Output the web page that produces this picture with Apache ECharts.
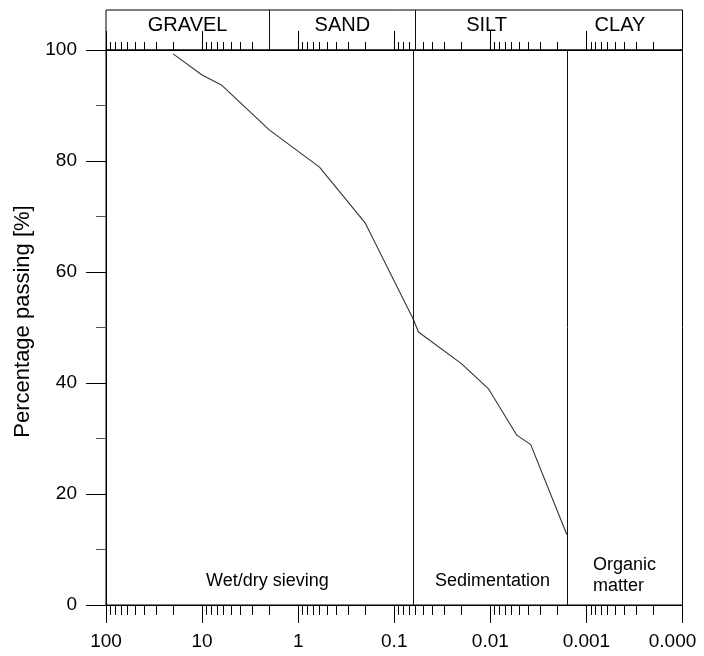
<!DOCTYPE html>
<html>
<head>
<meta charset="utf-8">
<script src="https://cdn.jsdelivr.net/npm/echarts@6/dist/echarts.min.js"></script>
<style>
  html, body { margin: 0; padding: 0; background: #fff; }
  #chart { width: 704px; height: 656px; }
</style>
</head>
<body>
<div id="chart"></div>
<script>
// Grain size distribution curve (particle diameter in mm, log scale, decreasing to the right)
const sizeMm = [20, 10, 6.3, 2, 0.6, 0.2, 0.063, 0.056, 0.02, 0.0105, 0.0053, 0.0038, 0.0016];
const passingPct = [99.3, 95.5, 93.7, 85.6, 78.9, 68.8, 51.4, 49.2, 43.5, 39.0, 30.6, 28.9, 12.7];

// Soil fractions shown in the header band
const fractionNames = ['GRAVEL', 'SAND', 'SILT', 'CLAY'];
const fractionBounds = [100, 2, 0.06, 0.002, 0.0001];

// Boundaries between the test methods
const methodBounds = [0.063, 0.0016];
const methodNames = ['Wet/dry sieving', 'Sedimentation', 'Organic\nmatter'];

// Axis ticks
const tickValues = [100, 10, 1, 0.1, 0.01, 0.001, 0.0001];
const tickLabels = ['100', '10', '1', '0.1', '0.01', '0.001', '0.000'];
const yTicks = [0, 20, 40, 60, 80, 100];

const FONT = 'Liberation Sans, Arial, sans-serif';
const INK = '#000';

// intermediate logarithmic ticks 2..9 × 10^n
const minorValues = [];
for (let n = -4; n <= 1; n++) {
  for (let k = 2; k <= 9; k++) minorValues.push(+(k * Math.pow(10, n)).toPrecision(3));
}

function labelFor(v) {
  const i = tickValues.findIndex(t => Math.abs(Math.log10(t) - Math.log10(v)) < 1e-6);
  if (i < 0) return '';
  return i === tickValues.length - 1 ? '{r|' + tickLabels[i] + '}' : tickLabels[i];
}

const logAxisBase = {
  type: 'log',
  logBase: 10,
  min: tickValues[tickValues.length - 1],
  max: tickValues[0],
  inverse: true,
  splitLine: { show: false },
  axisPointer: { show: false }
};

const chart = echarts.init(document.getElementById('chart'), null, { renderer: 'canvas' });

const fractionAreas = fractionNames.map((name, i) => [
  { xAxis: fractionBounds[i], name: name },
  { xAxis: fractionBounds[i + 1] }
]);

// full-height separators between the test methods
const yMin = yTicks[0], yMax = yTicks[yTicks.length - 1];
const methodLines = methodBounds.map(v => [{ coord: [v, yMin] }, { coord: [v, yMax] }]);

chart.setOption({
  animation: false,
  backgroundColor: '#fff',
  grid: [
    { left: 106, right: 21.5, top: 50, bottom: 51, show: true, borderColor: INK, borderWidth: 1, backgroundColor: 'transparent' },
    { left: 106, right: 21.5, top: 10, height: 40, show: true, borderColor: INK, borderWidth: 1, backgroundColor: 'transparent' }
  ],
  xAxis: [
    Object.assign({}, logAxisBase, {
      gridIndex: 0,
      position: 'bottom',
      axisLine: { show: true, lineStyle: { color: INK, width: 1 } },
      axisTick: { show: true, inside: false, length: 18, customValues: tickValues, lineStyle: { color: INK } },
      axisLabel: {
        show: true, margin: 27, color: INK, fontFamily: FONT, fontSize: 19,
        customValues: tickValues,
        formatter: labelFor,
        rich: { r: { fontFamily: FONT, fontSize: 19, color: INK, padding: [0, 20, 0, 0] } }
      }
    }),
    Object.assign({}, logAxisBase, {
      gridIndex: 0,
      position: 'bottom',
      axisLine: { show: false },
      axisTick: { show: true, inside: false, length: 10, customValues: minorValues, lineStyle: { color: INK } },
      axisLabel: { show: false }
    }),
    Object.assign({}, logAxisBase, {
      gridIndex: 1,
      position: 'bottom',
      axisLine: { show: true, lineStyle: { color: INK, width: 1 } },
      axisTick: { show: true, inside: true, length: 19, customValues: tickValues, lineStyle: { color: INK } },
      axisLabel: { show: false }
    }),
    Object.assign({}, logAxisBase, {
      gridIndex: 1,
      position: 'bottom',
      axisLine: { show: false },
      axisTick: { show: true, inside: true, length: 8, customValues: minorValues, lineStyle: { color: INK } },
      axisLabel: { show: false }
    })
  ],
  yAxis: [
    {
      type: 'value', gridIndex: 0, min: yMin, max: yMax, interval: 20,
      name: 'Percentage passing [%]',
      nameLocation: 'middle', nameGap: 66,
      nameTextStyle: { fontFamily: FONT, fontSize: 22, color: INK, padding: [0, 0, 0, 12] },
      axisLine: { show: true, lineStyle: { color: INK } },
      axisTick: { show: true, inside: false, length: 20, lineStyle: { color: INK } },
      minorTick: { show: true, splitNumber: 2, length: 10, lineStyle: { color: '#555' } },
      axisLabel: { margin: 29, color: INK, fontFamily: FONT, fontSize: 19 },
      splitLine: { show: false }
    },
    { type: 'value', gridIndex: 1, min: 0, max: 1, show: false }
  ],
  series: [
    {
      type: 'line',
      xAxisIndex: 0, yAxisIndex: 0,
      data: sizeMm.map((d, i) => [d, passingPct[i]]),
      showSymbol: false,
      lineStyle: { color: '#333', width: 1.1 },
      silent: true,
      markLine: {
        silent: true,
        symbol: ['none', 'none'],
        label: { show: false },
        lineStyle: { color: '#111', width: 1, type: 'solid' },
        data: methodLines
      }
    },
    {
      type: 'line',
      xAxisIndex: 2, yAxisIndex: 1,
      data: [],
      silent: true,
      markLine: {
        silent: true,
        symbol: ['none', 'none'],
        label: { show: false },
        lineStyle: { color: '#111', width: 1, type: 'solid' },
        data: fractionBounds.slice(1, -1).map(v => ({ xAxis: v }))
      },
      markArea: {
        silent: true,
        itemStyle: { color: 'rgba(0,0,0,0)' },
        label: {
          show: true, position: 'inside', offset: [0, -5],
          color: INK, fontFamily: FONT, fontSize: 20
        },
        data: fractionAreas
      }
    }
  ],
  graphic: [
    { type: 'text', left: 268 - 62, top: 572, style: { text: methodNames[0], font: '18px ' + FONT, fill: INK } },
    { type: 'text', left: 493 - 58, top: 572, style: { text: methodNames[1], font: '18px ' + FONT, fill: INK } },
    { type: 'text', left: 593, top: 555, style: { text: methodNames[2], font: '18px ' + FONT, fill: INK, lineHeight: 21 } }
  ]
});
</script>
</body>
</html>
